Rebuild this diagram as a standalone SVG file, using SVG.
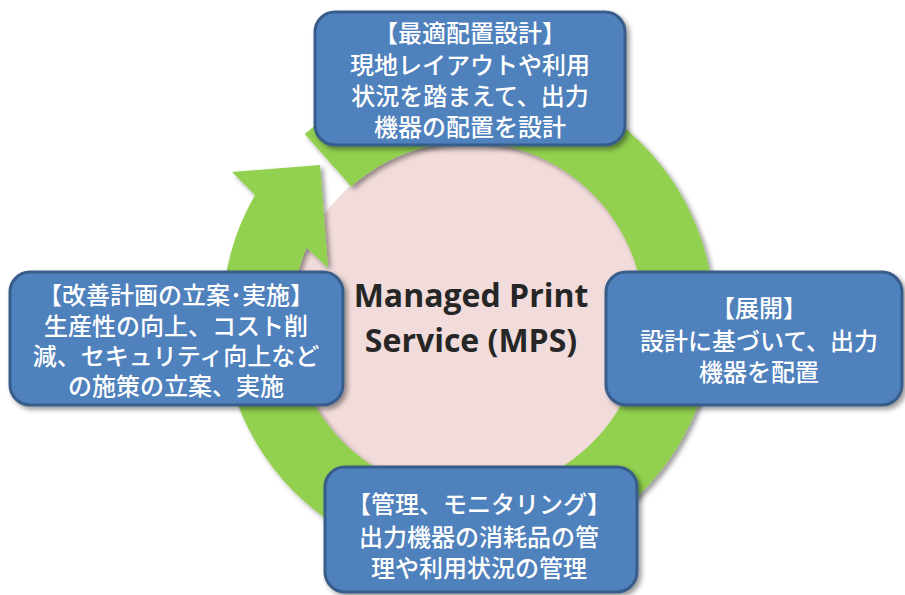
<svg xmlns="http://www.w3.org/2000/svg" width="905" height="595" viewBox="0 0 905 595">
  <defs>
    <filter id="shadow" x="-20%" y="-20%" width="140%" height="140%">
      <feDropShadow dx="3" dy="3" stdDeviation="2.5" flood-color="#000" flood-opacity="0.4"/>
    </filter>
    <style>
      .box { fill: #4F81BD; stroke: #385D8A; stroke-width: 3; filter: url(#shadow); }
      .lbl { font-family: "Noto Sans CJK JP", "Noto Sans", sans-serif; font-size: 24px; font-weight: 500; fill: #FFFFFF; text-anchor: middle; }
      .center { font-family: "Open Sans", "Liberation Sans", sans-serif; font-weight: bold; font-size: 32px; fill: #262626; text-anchor: middle; }
    </style>
  </defs>
  <rect width="905" height="595" fill="#FFFFFF"/>

  <g id="core">
    <circle cx="468" cy="318" r="177" fill="#F2DCDB"/>
  </g>

  <g id="connectors">
    <path d="M304.7,134 A246,246 0 1 1 255,195 L232,172 L320,165 L328,268 L306.6,247.8 A176,176 0 1 0 351.2,186.4 Z" fill="#92D050" filter="url(#shadow)"/>
  </g>

  <g id="mps">
    <text class="center" x="471" y="307">Managed Print</text>
    <text class="center" x="471" y="352">Service (MPS)</text>
  </g>

  <g id="design">
    <rect class="box" x="315" y="12" width="310" height="133" rx="20"/>
    <text class="lbl" x="470" y="42">【最適配置設計】</text>
    <text class="lbl" x="470" y="74">現地レイアウトや利用</text>
    <text class="lbl" x="470" y="105">状況を踏まえて、出力</text>
    <text class="lbl" x="470" y="136">機器の配置を設計</text>
  </g>

  <g id="deploy">
    <rect class="box" x="606" y="272" width="296" height="133" rx="20"/>
    <text class="lbl" x="759" y="317">【展開】</text>
    <text class="lbl" x="759" y="350">設計に基づいて、出力</text>
    <text class="lbl" x="759" y="381">機器を配置</text>
  </g>

  <g id="manage">
    <rect class="box" x="325" y="467" width="312" height="125" rx="20"/>
    <text class="lbl" x="479" y="513">【管理、モニタリング】</text>
    <text class="lbl" x="479" y="546">出力機器の消耗品の管</text>
    <text class="lbl" x="479" y="577">理や利用状況の管理</text>
  </g>

  <g id="improve">
    <rect class="box" x="10" y="272" width="333" height="133" rx="20"/>
    <text class="lbl" x="176" y="304">【改善計画の立案･実施】</text>
    <text class="lbl" x="176" y="335">生産性の向上、コスト削</text>
    <text class="lbl" x="176" y="365">減、セキュリティ向上など</text>
    <text class="lbl" x="176" y="395">の施策の立案、実施</text>
  </g>
</svg>
